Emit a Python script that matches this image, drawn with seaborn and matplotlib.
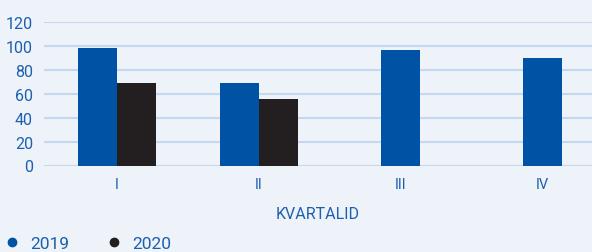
import numpy as np
import pandas as pd
import matplotlib
matplotlib.use('Agg')
import matplotlib.pyplot as plt
from matplotlib.lines import Line2D
import seaborn as sns

# ── Data ──────────────────────────────────────────────────────────
quarters = ['I', 'II', 'III', 'IV']
years = ['2019', '2020']
values_2019 = [98, 69, 97, 90]
values_2020 = [69, 56, np.nan, np.nan]
y_ticks = [0, 20, 40, 60, 80, 100, 120]
x_title = 'KVARTALID'

# ── Style ─────────────────────────────────────────────────────────
BG = '#EEF3FA'
GRID = '#C4D8EE'
TXT = '#1D5FAE'
COLORS = {'2019': '#0052A4', '2020': '#231F20'}
BAR_W = 0.55

sns.set_style('white')
plt.rcParams['font.family'] = ['Roboto', 'DejaVu Sans']

df = pd.DataFrame({
    'kvartal': quarters * 2,
    'aasta': [years[0]] * 4 + [years[1]] * 4,
    'vaartus': values_2019 + values_2020,
})

fig = plt.figure(figsize=(5.92, 2.53), dpi=100, facecolor=BG)
ax = fig.add_axes([44 / 592, 86.5 / 253, 548 / 592, 143.5 / 253])
ax.set_facecolor(BG)

sns.barplot(data=df, x='kvartal', y='vaartus', hue='aasta', order=quarters,
            hue_order=years, palette=COLORS, width=BAR_W, dodge=True,
            saturation=1, errorbar=None, legend=False, linewidth=0,
            ax=ax, zorder=3)

# centre the lone 2019 bars where 2020 has no value
for p in ax.containers[0].patches:
    i = int(round(p.get_x() + p.get_width() / 2))
    if np.isnan(values_2020[i]):
        p.set_x(i - p.get_width() / 2)

ax.set_ylim(0, 120)
ax.set_xlim(-0.514, 3.35)
ax.set_yticks(y_ticks)
ax.yaxis.grid(True, color=GRID, linewidth=1.5, zorder=0)
ax.set_axisbelow(True)
for s in ax.spines.values():
    s.set_visible(False)
ax.tick_params(axis='both', length=0, colors=TXT)
ax.tick_params(axis='y', labelsize=11.5, pad=8)
ax.tick_params(axis='x', labelsize=10.5, pad=8)
ax.set_ylabel('')
ax.set_xlabel(x_title, color=TXT, fontsize=11.5, labelpad=11)

handles = [Line2D([], [], linestyle='none', marker='o', markersize=6,
                  color=COLORS[y]) for y in years]
fig.legend(handles, years, loc='center left',
           bbox_to_anchor=(6.6 / 592, (253 - 244) / 253),
           ncol=2, frameon=False, fontsize=12.5, labelcolor=TXT,
           handlelength=0.6, handletextpad=0.75, columnspacing=2.3,
           borderpad=0, borderaxespad=0)

fig.savefig('out.png', dpi=100, facecolor=BG)
